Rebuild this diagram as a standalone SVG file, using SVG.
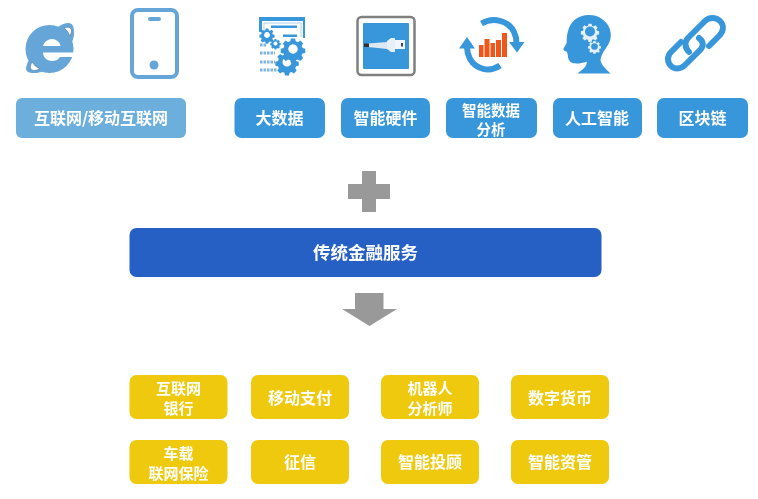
<svg xmlns="http://www.w3.org/2000/svg" width="758" height="499" viewBox="0 0 758 499">
<style>
text{font-family:"Noto Sans CJK SC","Noto Sans",sans-serif;font-weight:700;fill:#fff;font-size:16px;text-anchor:middle}
.two{font-size:15px}
.lb{fill:#6CAEDC}.b{fill:#3996DB}.d{fill:#2560C4}.y{fill:#EEC90B}.g{fill:#999}
.ic{fill:#3996DB}.ln{fill:none;stroke:#3996DB}.lk{fill:none;stroke:#3996DB;stroke-width:6;stroke-linecap:round}
.bin{fill:none;stroke:#7FB5DF;stroke-width:3;stroke-dasharray:2.500 1}
.wg{fill:#E6F0F8}
</style>
<defs>
<filter id="s" x="-5%" y="-5%" width="110%" height="110%"><feGaussianBlur stdDeviation="0.5"/></filter>
<path id="gear" d="M-2-10h4l.6 2.700 2 .8 2.300-1.500 2.800 2.800-1.500 2.300.8 2 2.700.6v4l-2.700.6-.8 2 1.500 2.300-2.800 2.800-2.300-1.500-2 .8-.6 2.700h-4l-.6-2.700-2-.8-2.300 1.500-2.800-2.800 1.500-2.300-.8-2-2.700-.6v-4l2.700-.6.8-2-1.500-2.300 2.800-2.800 2.300 1.500 2-.8zM0-4.500a4.500 4.500 0 1 0 .01 0z" fill-rule="evenodd"/>
</defs>
<g filter="url(#s)">
<g id="icon-ie">
<circle cx="49.500" cy="49" r="24" fill="#65A5D7"/>
<path fill="#65A5D7" d="M58 27C64 23 71 21 73 26 75 31 74 38 72 42L64 33zM31 56C27 63 24 70 28 72 32 74 39 73 44 71z"/>
<path fill="#fff" stroke="#56677a" stroke-width=".5" d="M64 28C67 27 70 27 71 29 72 31 71 33 70 36 68 32 67 30 64 28zM32 62C30 66 30 69 32 70 34 71 37 70 40 69 36 67 34 65 32 62z"/>
<path fill="#fff" d="M43 46C44 42 48 39 52 39 56 39 60 42 60.500 46z"/>
<path fill="#fff" d="M43 52.500H76V57H60C58 60 55 61 52 61 47 61 43 57 43 52.500z"/>
</g>
<g id="icon-phone">
<rect x="132" y="10" width="45" height="67" rx="6" fill="none" stroke="#65A5D7" stroke-width="4"/>
<rect x="148" y="17" width="13" height="4" rx="2" fill="#65A5D7"/>
<circle cx="154" cy="65" r="4.500" fill="#65A5D7"/>
</g>
<g id="icon-bigdata">
<path class="ic" d="M259 17h46v21h-2V21h-41v11h-3z"/>
<path fill="none" stroke="#A9CFEC" stroke-width="1" d="M264 31v-8h37v14"/>
<rect x="271" y="25.500" width="26" height="2.500" class="ic"/>
<rect x="283" y="34.500" width="14" height="2.500" class="ic"/>
<use href="#gear" class="ic" transform="translate(267 35) scale(.65)"/>
<use href="#gear" class="ic" transform="translate(275.500 43.500) scale(.45)"/>
<use href="#gear" class="ic" transform="translate(293 49) scale(1.050)"/>
<use href="#gear" class="ic" transform="translate(287 62) scale(1)"/>
<path class="bin" d="M260 45h7M260 53h15M260 62h15M260 70h17"/>
</g>
<g id="icon-hardware">
<rect x="357.500" y="17" width="57" height="58" rx="4" fill="#fff" stroke="#808080" stroke-width="2.500"/>
<rect x="363" y="23" width="46" height="46" rx="1" class="ic"/>
<path d="M368 43.500L387 42V49L368 47z" fill="#DCE8F2"/>
<rect x="364" y="43.500" width="5" height="3.500" fill="#333"/>
<path d="M387 41L391 38H395V52H391L387 49z" fill="#E6F0F8"/>
<rect x="395" y="40" width="10" height="9" fill="#F0F6FB"/>
<rect x="401" y="43" width="2" height="3.500" fill="#444"/>
</g>
<g id="icon-analytics">
<path class="ln" stroke-width="6" d="M481.500 23.500C493 17 508 20 514 32 516 36 516.500 39 516.500 43"/>
<path class="ic" d="M509 42h15.500l-7.500 10.500z"/>
<path class="ln" stroke-width="6" d="M500 65.500C489 73 476 69 470 59 468 55 467 52 467 47"/>
<path class="ic" d="M459 48.500l8-11.500 8 11.500z"/>
<g fill="#F0561B"><rect x="479" y="45" width="4.500" height="12"/><rect x="484.500" y="39" width="5" height="18"/><rect x="490.500" y="43" width="4.500" height="14"/><rect x="496" y="40" width="5" height="17"/><rect x="502" y="33" width="5" height="24"/></g>
</g>
<g id="icon-ai">
<path class="ic" d="M577.500 73.500C580 71 584 69 585 67 586.500 65 587 63 586.700 61.700 582 63 578 64 575 63.300 571 63.500 569 61 568 57.500 568 54 567 52 566.500 51.500 564 51 563 50 563.500 48.500L566.700 43C566.500 38 567 33 569 28 572 20 580 15 588 15 597 14.500 605 19 609 27 612 34 611 40 608 45 604 51 601 55 600.500 60 601 65 606 69 610.500 73.500z"/>
<g class="wg"><use href="#gear" transform="translate(590 31.500) scale(.78)"/><use href="#gear" transform="translate(594.500 46.500) scale(.55)"/></g>
<circle cx="590" cy="31.500" r="5" class="ic"/><circle cx="594.500" cy="46.500" r="3.300" class="ic"/>
</g>
<g id="icon-link">
<path class="lk" d="M709 46L719 36C724 31 724 25 720 21 716 17 709 17 705 21L688 38C684 42 685 48 689 52"/>
<path class="lk" d="M699 38C703 41 704 45 701 49L685 65C680 70 674 69 671 66 667 62 667 56 671 52L681 42"/>
</g>
<g id="node-internet"><rect x="16" y="98" width="170" height="40" rx="6" class="lb"/><text x="101" y="124">互联网/移动互联网</text></g>
<g id="node-bigdata"><rect x="234.500" y="98" width="90.500" height="40" rx="7" class="b"/><text x="279.500" y="124">大数据</text></g>
<g id="node-hardware"><rect x="341" y="98" width="89" height="40" rx="7" class="b"/><text x="385.500" y="124">智能硬件</text></g>
<g id="node-analytics"><rect x="446" y="98" width="91" height="40" rx="7" class="b"/><text style="font-size:14.500px"><tspan x="491" y="116">智能数据</tspan><tspan x="491" y="135">分析</tspan></text></g>
<g id="node-ai"><rect x="553" y="98" width="89" height="40" rx="7" class="b"/><text x="597" y="124">人工智能</text></g>
<g id="node-blockchain"><rect x="657" y="98" width="91" height="40" rx="7" class="b"/><text x="702.500" y="124">区块链</text></g>
<g id="plus"><path class="g" d="M362 171h14v13h14v15h-14v13h-14v-13h-14v-15h14z"/></g>
<g id="node-finance"><rect x="129.500" y="228" width="472" height="49" rx="7" class="d"/><text x="365.500" y="259" style="font-size:17.500px">传统金融服务</text></g>
<g id="arrow"><path class="g" d="M355 293h28.500v16H397l-27.500 17L342 309h13z"/></g>
<g id="node-bank"><rect x="129.500" y="375" width="98" height="44" rx="7" class="y"/><text class="two"><tspan x="178.500" y="393.500">互联网</tspan><tspan x="178.500" y="413.500">银行</tspan></text></g>
<g id="node-pay"><rect x="251" y="375" width="98" height="44" rx="7" class="y"/><text x="300" y="404">移动支付</text></g>
<g id="node-robo"><rect x="381" y="375" width="98" height="44" rx="7" class="y"/><text class="two"><tspan x="430" y="393.500">机器人</tspan><tspan x="430" y="413.500">分析师</tspan></text></g>
<g id="node-coin"><rect x="511" y="375" width="98" height="44" rx="7" class="y"/><text x="560" y="404">数字货币</text></g>
<g id="node-car"><rect x="129.500" y="440" width="98" height="44" rx="7" class="y"/><text class="two"><tspan x="178.500" y="458.500">车载</tspan><tspan x="178.500" y="478.500">联网保险</tspan></text></g>
<g id="node-credit"><rect x="251" y="440" width="98" height="44" rx="7" class="y"/><text x="300" y="468">征信</text></g>
<g id="node-advisor"><rect x="381" y="440" width="98" height="44" rx="7" class="y"/><text x="430" y="468">智能投顾</text></g>
<g id="node-wealth"><rect x="511" y="440" width="98" height="44" rx="7" class="y"/><text x="560" y="468">智能资管</text></g>
</g>
</svg>
